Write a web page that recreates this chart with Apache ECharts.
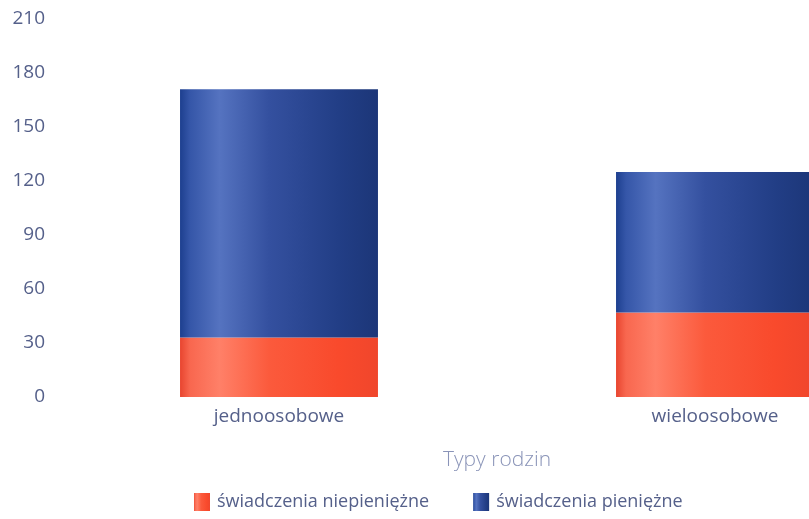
<!DOCTYPE html>
<html><head><meta charset="utf-8">
<script src="https://cdn.jsdelivr.net/npm/echarts@6/dist/echarts.min.js"></script>
<style>html,body{margin:0;padding:0;overflow:hidden;background:#fff}#c{width:1000px;height:519px}</style>
</head><body><div id="c"></div>
<script>
const categories = ['jednoosobowe', 'wieloosobowe'];
const seriesNames = ['świadczenia niepieniężne', 'świadczenia pieniężne'];
const niepieniezne = [33, 47];
const pieniezne = [138, 78];
const yTicks = [0, 30, 60, 90, 120, 150, 180, 210];

function grad(stops) {
  return new echarts.graphic.LinearGradient(0, 0, 1, 0, stops);
}
const redGrad = grad([
  {offset: 0, color: '#e8452f'}, {offset: 0.05, color: '#f8674f'},
  {offset: 0.2, color: '#ff8068'}, {offset: 0.45, color: '#fb5a3c'},
  {offset: 0.8, color: '#f94a2c'}, {offset: 1, color: '#f0462c'}
]);
const blueGrad = grad([
  {offset: 0, color: '#1d3f8f'}, {offset: 0.05, color: '#3556a8'},
  {offset: 0.2, color: '#5573c0'}, {offset: 0.45, color: '#34509f'},
  {offset: 0.8, color: '#223e86'}, {offset: 1, color: '#1c3678'}
]);
const font = '"Open Sans", sans-serif';
const txt = '#55608a';

const chart = echarts.init(document.getElementById('c'), null, {renderer: 'canvas'});
chart.setOption({
  animation: false,
  grid: {left: 61, right: 67, top: 19, bottom: 122},
  legend: {
    left: 189, top: 488, itemGap: 44, itemWidth: 16, itemHeight: 18,
    textStyle: {fontFamily: font, fontSize: 18, color: txt, padding: [0, 0, 0, 2]},
    data: seriesNames.map((n, i) => ({name: n, icon: 'rect', itemStyle: {color: i ? blueGrad : redGrad}}))
  },
  xAxis: {
    type: 'category', data: categories,
    axisLine: {show: false}, axisTick: {show: false},
    axisLabel: {fontFamily: font, fontSize: 19, color: txt, margin: 10},
    name: 'Typy rodzin', nameLocation: 'middle', nameGap: 53,
    nameTextStyle: {fontFamily: font, fontSize: 21, color: '#8a94b8', fontWeight: 300}
  },
  yAxis: {
    type: 'value', min: yTicks[0], max: yTicks[yTicks.length - 1], interval: 30,
    axisLine: {show: false}, axisTick: {show: false}, splitLine: {show: false},
    axisLabel: {fontFamily: font, fontSize: 19, color: txt, margin: 16}
  },
  series: [
    {name: seriesNames[0], type: 'bar', stack: 's', barWidth: '45.4%', data: niepieniezne,
     itemStyle: {color: redGrad}},
    {name: seriesNames[1], type: 'bar', stack: 's', barWidth: '45.4%', data: pieniezne,
     itemStyle: {color: blueGrad}}
  ]
});
</script></body></html>
